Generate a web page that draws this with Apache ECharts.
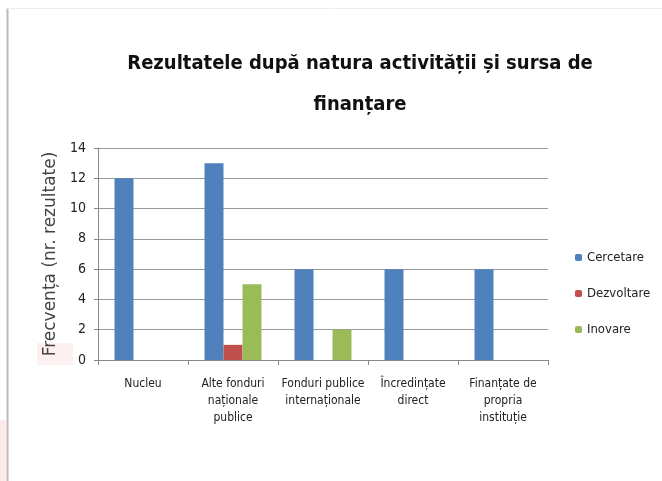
<!DOCTYPE html>
<html>
<head>
<meta charset="utf-8">
<script src="https://cdn.jsdelivr.net/npm/echarts@6/dist/echarts.min.js"></script>
<style>
  html, body { margin: 0; padding: 0; background: #fff; }
  #chart { width: 662px; height: 481px; }
</style>
</head>
<body>
<div id="chart"></div>
<script>
var categories = ['Nucleu', 'Alte fonduri\nnaționale\npublice', 'Fonduri publice\ninternaționale', 'Încredințate\ndirect', 'Finanțate de\npropria\ninstituție'];
var cercetare = [12, 13, 6, 6, 6];
var dezvoltare = [0, 1, 0, 0, 0];
var inovare = [0, 5, 2, 0, 0];

var chart = echarts.init(document.getElementById('chart'));
var font = '"DejaVu Sans Condensed", "DejaVu Sans", sans-serif';

var option = {
  animation: false,
  title: {
    text: 'Rezultatele după natura activității și sursa de\nfinanțare',
    left: 355,
    textAlign: 'center',
    top: 38,
    textStyle: { fontFamily: font, fontWeight: 'bold', fontSize: 20, lineHeight: 41, color: '#111' }
  },
  legend: {
    orient: 'vertical',
    left: 570,
    top: 246,
    itemWidth: 7,
    itemHeight: 7,
    itemGap: 23,
    textStyle: { fontFamily: font, fontSize: 13, color: '#222' },
    data: ['Cercetare', 'Dezvoltare', 'Inovare']
  },
  grid: { left: 98, right: 114, top: 148, bottom: 121 },
  xAxis: {
    type: 'category',
    data: categories,
    axisLine: { lineStyle: { color: '#888' } },
    axisTick: { show: true, length: 5, lineStyle: { color: '#888' } },
    axisLabel: { interval: 0, fontFamily: font, fontSize: 12, lineHeight: 17, color: '#222', margin: 15 }
  },
  yAxis: {
    type: 'value',
    min: 0, max: 14, interval: 2,
    name: 'Frecvența (nr. rezultate)',
    nameLocation: 'middle',
    nameGap: 33,
    nameTextStyle: { fontFamily: '"DejaVu Sans", sans-serif', fontSize: 17, color: '#444' },
    axisLine: { show: true, lineStyle: { color: '#888' } },
    axisTick: { show: true, length: 4, lineStyle: { color: '#888' } },
    axisLabel: { fontFamily: font, fontSize: 14, color: '#222', margin: 12 },
    splitLine: { lineStyle: { color: '#999' } }
  },
  series: [
    { name: 'Cercetare', type: 'bar', data: cercetare, barWidth: 19, barGap: '0%', itemStyle: { color: '#4f81bd' } },
    { name: 'Dezvoltare', type: 'bar', data: dezvoltare, barWidth: 19, itemStyle: { color: '#c0504d' } },
    { name: 'Inovare', type: 'bar', data: inovare, barWidth: 19, itemStyle: { color: '#9bbb59' } }
  ],
  graphic: [
    { type: 'rect', left: 0, top: 420, shape: { width: 6, height: 61 }, style: { fill: '#fbeaea' }, silent: true, z: -2 },
    { type: 'rect', left: 37, top: 343, shape: { width: 36, height: 22 }, style: { fill: '#fdf0f0' }, silent: true, z: -2 },
    { type: 'line', shape: { x1: 7.5, y1: 8, x2: 7.5, y2: 481 }, style: { stroke: '#bbb', lineWidth: 2 }, silent: true, z: -1 },
    { type: 'line', shape: { x1: 7, y1: 8.5, x2: 662, y2: 8.5 }, style: { stroke: '#eee', lineWidth: 1 }, silent: true, z: -1 }
  ]
};
chart.setOption(option);
</script>
</body>
</html>
